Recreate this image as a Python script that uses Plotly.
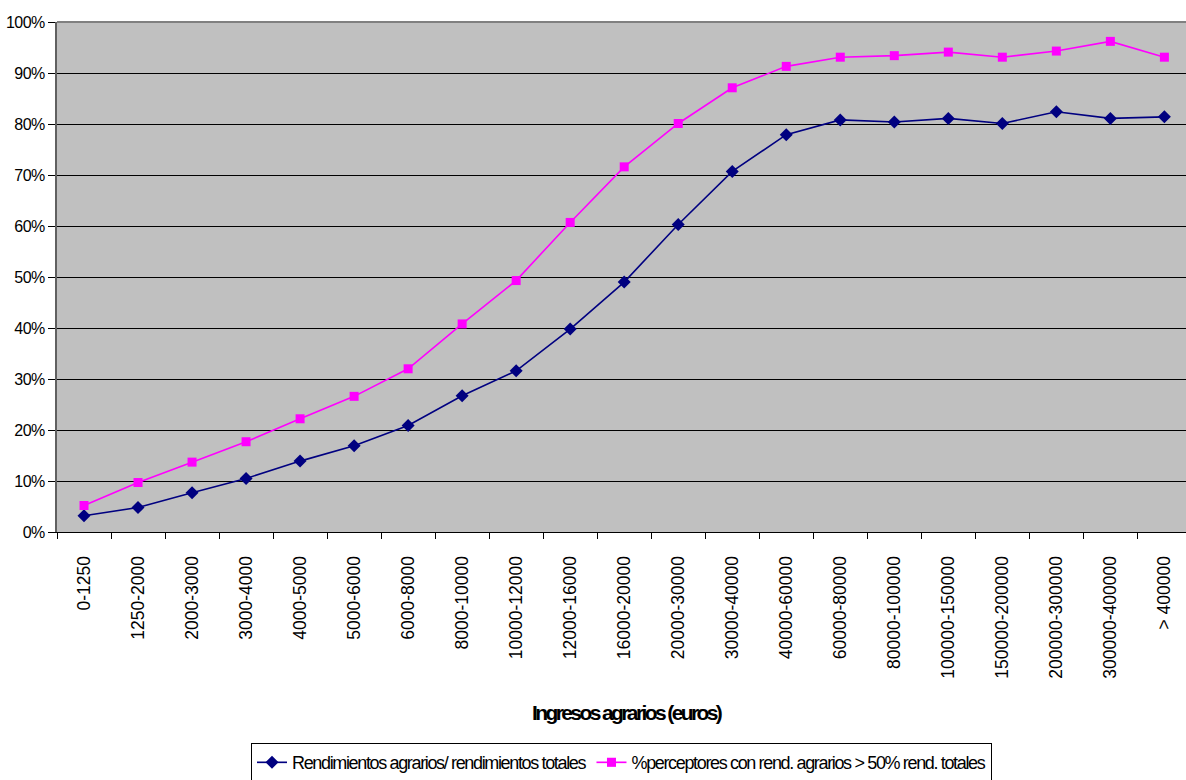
import plotly.graph_objects as go

categories = ["0-1250", "1250-2000", "2000-3000", "3000-4000", "4000-5000", "5000-6000",
              "6000-8000", "8000-10000", "10000-12000", "12000-16000", "16000-20000",
              "20000-30000", "30000-40000", "40000-60000", "60000-80000", "80000-100000",
              "100000-150000", "150000-200000", "200000-300000", "300000-400000", "> 400000"]

rend_ratio = [0.032, 0.048, 0.077, 0.105, 0.139, 0.169, 0.209, 0.267, 0.316, 0.398, 0.490,
              0.603, 0.707, 0.779, 0.808, 0.804, 0.811, 0.801, 0.824, 0.811, 0.814]

perceptores = [0.052, 0.097, 0.137, 0.177, 0.222, 0.266, 0.320, 0.408, 0.493, 0.607, 0.716,
               0.801, 0.871, 0.913, 0.931, 0.934, 0.941, 0.931, 0.943, 0.962, 0.931]

name_1 = "Rendimientos agrarios/ rendimientos totales"
name_2 = "%perceptores con rend. agrarios > 50% rend. totales"
x_title = "Ingresos agrarios (euros)"

FONT = "Liberation Sans, Arial, sans-serif"

fig = go.Figure()
fig.add_trace(go.Scatter(
    x=categories, y=rend_ratio, name=name_1, mode="lines+markers",
    line=dict(color="#000080", width=1.6),
    marker=dict(symbol="diamond", size=10, color="#000080", line=dict(width=0)),
))
fig.add_trace(go.Scatter(
    x=categories, y=perceptores, name=name_2, mode="lines+markers",
    line=dict(color="#FF00FF", width=1.6),
    marker=dict(symbol="square", size=9, color="#FF00FF", line=dict(width=0)),
))

fig.update_layout(
    width=1186, height=780,
    margin=dict(l=57, r=0, t=22, b=248, autoexpand=False),
    paper_bgcolor="white",
    plot_bgcolor="#C0C0C0",
    font=dict(family=FONT, color="black"),
    showlegend=True,
    legend=dict(
        orientation="h", x=0.5, xanchor="center", y=-0.414, yanchor="top",
        bordercolor="black", borderwidth=1, bgcolor="white",
        font=dict(family=FONT, size=18, color="black"),
        itemwidth=30,
    ),
    xaxis=dict(
        type="category", range=[-0.5, 20.4],
        tickson="boundaries", ticks="outside", ticklen=6, tickcolor="black", tickwidth=1,
        tickangle=-90, tickfont=dict(family=FONT, size=17.5, color="black"),
        ticklabelstandoff=16,
        showline=True, linecolor="black", linewidth=1,
        showgrid=False, zeroline=False, automargin=False,
    ),
    yaxis=dict(
        range=[0, 1], dtick=0.1, tickformat=".0%",
        ticks="outside", ticklen=7, tickcolor="black", tickwidth=1,
        tickfont=dict(family=FONT, size=16, color="black"),
        showline=True, linecolor="#606060", linewidth=2,
        showgrid=True, gridcolor="black", gridwidth=1,
        zeroline=False, automargin=False,
    ),
    annotations=[dict(
        text="<b>" + x_title + "</b>", xref="paper", yref="paper",
        x=0.505, y=-0.353, xanchor="center", yanchor="middle", showarrow=False,
        font=dict(family=FONT, size=21, color="black"),
    )],
    shapes=[dict(type="line", xref="paper", yref="paper", x0=0, x1=1, y0=1, y1=1,
                 line=dict(color="#808080", width=2))],
)

post = """
document.body.style.margin='0';
var s=document.createElement('style');
s.textContent='.ytick text{letter-spacing:-0.5px} .legendtext{letter-spacing:-1.35px} .annotation-text{letter-spacing:-2.6px}';
document.head.appendChild(s);
var gd=document.getElementById('{plot_id}');
Plotly.relayout(gd,{'legend.font.size':18.01,'annotations[0].font.size':21.01});
"""

fig.write_html("out.html", post_script=post, config={"displayModeBar": False})
